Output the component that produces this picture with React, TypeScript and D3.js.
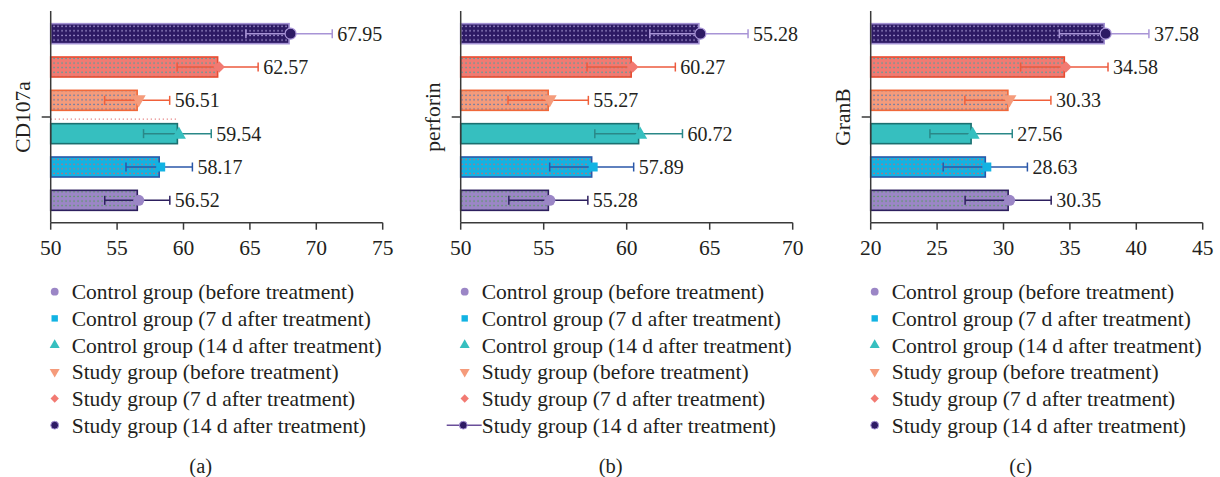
import React from "react";
import * as d3 from "d3";

const groups = [
  "Control group (before treatment)",
  "Control group (7 d after treatment)",
  "Control group (14 d after treatment)",
  "Study group (before treatment)",
  "Study group (7 d after treatment)",
  "Study group (14 d after treatment)",
];

const cd107aMeans = [56.52, 58.17, 59.54, 56.51, 62.57, 67.95];
const cd107aSD = [2.45, 2.5, 2.55, 2.45, 3.05, 3.25];
const cd107aLabels = ["56.52", "58.17", "59.54", "56.51", "62.57", "67.95"];
const cd107aTicks = [50, 55, 60, 65, 70, 75];

const perforinMeans = [55.28, 57.89, 60.72, 55.27, 60.27, 64.35];
const perforinSD = [2.38, 2.53, 2.64, 2.42, 2.66, 2.96];
const perforinLabels = ["55.28", "57.89", "60.72", "55.27", "60.27", "55.28"];
const perforinTicks = [50, 55, 60, 65, 70];

const granBMeans = [30.35, 28.63, 27.56, 30.33, 34.58, 37.58];
const granBSD = [3.24, 3.17, 3.1, 3.24, 3.29, 3.37];
const granBLabels = ["30.35", "28.63", "27.56", "30.33", "34.58", "37.58"];
const granBTicks = [20, 25, 30, 35, 40, 45];

const fills = ["#9b86c6", "#12b3e3", "#36bfbf", "#f59b7b", "#f27a72", "#2d1a64"];
const dotColors = ["#4f9a55", "#e5605c", null, "#3f74b5", "#2fa7a7", "#c2b4ea"];
const strokes = ["#2d1f5e", "#2a57a8", "#1b7070", "#f0683a", "#e84c30", "#a290d2"];
const errColors = ["#2d1f5e", "#2a57a8", "#2a8888", "#f0603a", "#ec5a3e", "#a894d6"];
const markerFills = ["#9b86c6", "#12b3e3", "#36bfbf", "#f59b7b", "#f27a72", "#2d1a64"];

const FONT = "'Liberation Serif', 'Times New Roman', serif";

type Panel = {
  title: string;
  tag: string;
  means: number[];
  sds: number[];
  labels: string[];
  ticks: number[];
  left: number;
  legendLine: boolean;
  artifact: boolean;
};

const panels: Panel[] = [
  { title: "CD107a", tag: "(a)", means: cd107aMeans, sds: cd107aSD, labels: cd107aLabels, ticks: cd107aTicks, left: 50.7, legendLine: false, artifact: true },
  { title: "perforin", tag: "(b)", means: perforinMeans, sds: perforinSD, labels: perforinLabels, ticks: perforinTicks, left: 460.7, legendLine: true, artifact: false },
  { title: "GranB", tag: "(c)", means: granBMeans, sds: granBSD, labels: granBLabels, ticks: granBTicks, left: 870.7, legendLine: false, artifact: false },
];

const PLOT_W = 332;
const AXIS_Y = 222.7;
const TOP_Y = 11;

function markerPath(i: number, size: number): { d: string; rot: number } {
  const types = [d3.symbolCircle, d3.symbolSquare, d3.symbolTriangle, d3.symbolTriangle, d3.symbolSquare, d3.symbolCircle];
  const rots = [0, 0, 0, 180, 45, 0];
  const scaleF = [1, 0.85, 0.9, 0.9, 0.72, 1];
  const d = d3.symbol().type(types[i]).size(size * scaleF[i])() || "";
  return { d, rot: rots[i] };
}

function PanelView({ p }: { p: Panel }) {
  const x = d3.scaleLinear().domain([p.ticks[0], p.ticks[p.ticks.length - 1]]).range([p.left, p.left + PLOT_W]);
  const y = d3
    .scaleBand<number>()
    .domain(d3.range(groups.length).reverse())
    .range([17, 217])
    .paddingInner(0.4)
    .paddingOuter(0.2);
  const bw = y.bandwidth();
  const x0 = x(p.ticks[0]);
  const midY = (17 + 217) / 2;

  return (
    <g>
      {groups.map((g, i) => {
        const yy = y(i)!;
        const xe = x(p.means[i]);
        return (
          <g key={"b" + i}>
            <rect x={x0} y={yy} width={xe - x0} height={bw} fill={fills[i]} />
            {dotColors[i] && (
              <rect x={x0} y={yy} width={xe - x0} height={bw} fill={`url(#pat${i})`} />
            )}
            <rect x={x0} y={yy} width={xe - x0} height={bw} fill="none" stroke={strokes[i]} strokeWidth={1.6} />
          </g>
        );
      })}
      {p.artifact && (
        <line
          x1={x0}
          x2={x(p.means[2])}
          y1={y(2)! - 4.5}
          y2={y(2)! - 4.5}
          stroke="#e88a8a"
          strokeWidth={1.2}
          strokeDasharray="1.3 2.7"
        />
      )}
      {groups.map((g, i) => {
        const cy = y(i)! + bw / 2;
        const lo = x(p.means[i] - p.sds[i]);
        const hi = x(p.means[i] + p.sds[i]);
        return (
          <g key={"e" + i} stroke={errColors[i]} strokeWidth={1.5}>
            <line x1={lo} x2={hi} y1={cy} y2={cy} />
            <line x1={lo} x2={lo} y1={cy - 4.5} y2={cy + 4.5} />
            <line x1={hi} x2={hi} y1={cy - 4.5} y2={cy + 4.5} />
          </g>
        );
      })}
      {groups.map((g, i) => {
        const cy = y(i)! + bw / 2;
        const m = markerPath(i, 95);
        return (
          <path
            key={"m" + i}
            d={m.d}
            transform={`translate(${x(p.means[i]) + 1.5},${cy + (i === 2 ? 1 : i === 3 ? -1 : 0)}) rotate(${m.rot})`}
            fill={markerFills[i]}
            stroke={i === 5 ? "#a894d6" : "none"}
            strokeWidth={1.2}
          />
        );
      })}
      {groups.map((g, i) => {
        const cy = y(i)! + bw / 2;
        return (
          <text
            key={"l" + i}
            x={x(p.means[i] + p.sds[i]) + 5}
            y={cy}
            dy="0.35em"
            fontFamily={FONT}
            fontSize={20}
            fill="#231f20"
          >
            {p.labels[i]}
          </text>
        );
      })}
      <g stroke="#3a3a3a" strokeWidth={1.5}>
        <line x1={x0} x2={x0} y1={TOP_Y} y2={AXIS_Y} />
        <line x1={x0 - 9} x2={x0} y1={midY} y2={midY} />
        <line x1={x0} x2={x0 + PLOT_W} y1={AXIS_Y} y2={AXIS_Y} />
        {p.ticks.map((t) => (
          <line key={"t" + t} x1={x(t)} x2={x(t)} y1={AXIS_Y} y2={AXIS_Y + 7} />
        ))}
      </g>
      {p.ticks.map((t) => (
        <text
          key={"tl" + t}
          x={x(t)}
          y={255}
          textAnchor="middle"
          fontFamily={FONT}
          fontSize={21.5}
          fill="#231f20"
        >
          {t}
        </text>
      ))}
      <text
        transform={`translate(${x0 - 28},${midY}) rotate(-90)`}
        textAnchor="middle"
        dy="0.35em"
        fontFamily={FONT}
        fontSize={21.5}
        fill="#231f20"
      >
        {p.title}
      </text>
      {groups.map((g, i) => {
        const ly = 291.7 + i * 26.7;
        const m = markerPath(i, 48);
        const mx = x0 + 4;
        return (
          <g key={"lg" + i}>
            {p.legendLine && i === 5 && (
              <line x1={x0 - 14} x2={x0 + 21} y1={ly} y2={ly} stroke="#6a4f9a" strokeWidth={1.5} />
            )}
            <path
              d={m.d}
              transform={`translate(${p.legendLine && i === 5 ? x0 + 2.6 : mx},${ly}) rotate(${m.rot})`}
              fill={markerFills[i]}
              stroke={i === 5 ? "#a894d6" : "none"}
              strokeWidth={1}
            />
            <text x={x0 + 21} y={ly} dy="0.35em" fontFamily={FONT} fontSize={21.5} fill="#231f20">
              {g}
            </text>
          </g>
        );
      })}
      <text x={x0 + 150} y={466} dy="0.35em" textAnchor="middle" fontFamily={FONT} fontSize={20.5} fill="#231f20">
        {p.tag}
      </text>
    </g>
  );
}

export default function App() {
  return (
    <svg
      width={1220}
      height={477}
      viewBox="0 0 1220 477"
      style={{ position: "absolute", left: 0, top: 0, background: "#fff" }}
    >
      <defs>
        {dotColors.map((c, i) =>
          c ? (
            <pattern key={i} id={`pat${i}`} patternUnits="userSpaceOnUse" width={4} height={4.6} x={0} y={1}>
              <rect x={1.4} y={1.6} width={1.3} height={1.3} fill={c} />
            </pattern>
          ) : null
        )}
      </defs>
      {panels.map((p, pi) => (
        <PanelView key={pi} p={p} />
      ))}
    </svg>
  );
}
